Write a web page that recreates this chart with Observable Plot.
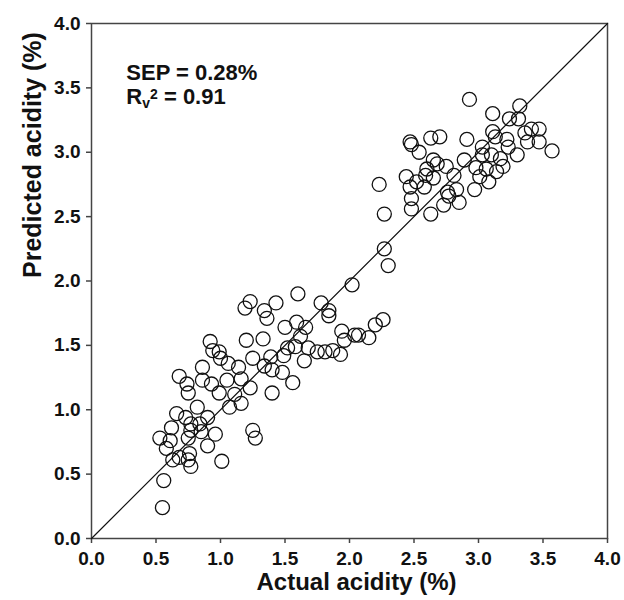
<!DOCTYPE html>
<html>
<head>
<meta charset="utf-8">
<script src="https://cdn.jsdelivr.net/npm/d3@7"></script>
<script src="https://cdn.jsdelivr.net/npm/@observablehq/plot@0.6"></script>
<style>
  html, body { margin: 0; padding: 0; background: #fff; }
  #chart svg { display: block; }
</style>
</head>
<body>
<div id="chart"></div>
<script>
// Actual acidity (%) values
const actualAcidity = [
  2.93,3.11,3.32,3.24,3.31,2.47,2.48,2.63,2.70,2.54,2.91,3.11,3.13,3.36,3.47,3.41,3.47,3.38,3.57,3.03,
  3.23,3.22,3.30,3.17,3.10,3.03,2.89,2.65,2.68,2.75,2.60,2.81,2.98,3.06,3.19,3.14,2.44,2.52,2.58,2.65,
  3.01,3.08,2.97,2.76,2.83,2.77,2.47,2.48,2.48,2.63,2.73,2.85,2.59,2.23,2.27,2.27,2.30,
  2.02,1.60,1.78,1.84,1.84,1.23,1.19,1.43,1.34,1.36,1.50,1.59,1.66,1.62,1.20,1.33,1.52,1.58,1.68,1.75,
  1.81,1.87,1.93,1.94,1.96,2.04,2.07,2.15,2.20,2.26,1.65,1.49,1.39,1.25,
  0.92,0.94,0.99,1.06,1.14,1.34,1.40,1.48,1.56,1.40,0.68,0.74,0.86,0.86,0.93,1.05,1.16,1.23,0.75,0.99,
  1.11,1.00,
  0.82,1.07,1.16,0.66,0.73,0.84,0.90,0.62,0.77,0.53,0.61,0.58,0.75,0.85,0.96,0.90,1.25,1.27,0.68,0.75,
  0.76,0.63,1.01,0.56,0.55,0.77,0.77
];
// Predicted acidity (%) values
const predictedAcidity = [
  3.41,3.30,3.36,3.26,3.26,3.08,3.06,3.11,3.12,3.00,3.10,3.16,3.12,3.15,3.18,3.18,3.08,3.08,3.01,3.04,
  3.04,3.10,2.98,2.95,2.98,2.98,2.94,2.94,2.91,2.89,2.87,2.82,2.88,2.87,2.89,2.85,2.81,2.77,2.73,2.80,
  2.81,2.77,2.71,2.69,2.71,2.66,2.73,2.64,2.56,2.52,2.59,2.61,2.82,2.75,2.52,2.25,2.12,
  1.97,1.90,1.83,1.77,1.73,1.84,1.79,1.83,1.77,1.71,1.64,1.68,1.64,1.57,1.54,1.55,1.48,1.49,1.48,1.45,
  1.45,1.46,1.43,1.61,1.54,1.58,1.58,1.56,1.66,1.70,1.38,1.42,1.41,1.40,
  1.53,1.46,1.45,1.36,1.33,1.34,1.31,1.29,1.21,1.13,1.26,1.20,1.33,1.23,1.20,1.23,1.24,1.17,1.13,1.13,
  1.12,1.40,
  1.02,1.02,1.05,0.97,0.94,0.89,0.94,0.86,0.89,0.78,0.76,0.70,0.78,0.83,0.81,0.72,0.84,0.78,0.63,0.61,
  0.66,0.61,0.60,0.45,0.24,0.56,0.84
];
const tickValues = [0, 0.5, 1, 1.5, 2, 2.5, 3, 3.5, 4];
const identityLine = [0, 4];
const annotationLines = ["SEP = 0.28%", "Rv2 = 0.91"];
const xTitle = "Actual acidity (%)";
const yTitle = "Predicted acidity (%)";

const points = actualAcidity.map((a, i) => ({actual: a, predicted: predictedAcidity[i]}));

const font = "'Liberation Sans', Arial, sans-serif";
const frameColor = "#444";

const plot = Plot.plot({
  width: 624,
  height: 600,
  marginLeft: 91,
  marginRight: 17,
  marginTop: 23,
  marginBottom: 62,
  style: {fontFamily: font, background: "#fff"},
  x: {domain: [0, 4]},
  y: {domain: [0, 4]},
  marks: [
    Plot.frame({stroke: frameColor, strokeWidth: 1.5}),
    Plot.axisX({ticks: tickValues, tickFormat: d3.format(".1f"), tickSize: 5, tickPadding: 8,
      fontSize: 19, fontWeight: "bold", fill: "#111", stroke: frameColor, strokeWidth: 1.5, label: null}),
    Plot.axisY({ticks: tickValues, tickFormat: d3.format(".1f"), tickSize: 5, tickPadding: 6,
      fontSize: 19, fontWeight: "bold", fill: "#111", stroke: frameColor, strokeWidth: 1.5, label: null}),
    Plot.line(identityLine.map(v => ({x: v, y: v})), {x: "x", y: "y", stroke: "#111", strokeWidth: 1.2}),
    Plot.dot(points, {x: "actual", y: "predicted", r: 7, fill: "none", stroke: "#111", strokeWidth: 1.3}),
    Plot.text([annotationLines.join("\n")], {x: 0.27, y: 3.69, text: d => d, textAnchor: "start", lineAnchor: "top",
      lineHeight: 24 / 22, fontSize: 22, fontWeight: "bold", fill: "#111"}),
    Plot.text([xTitle], {frameAnchor: "bottom", dy: 51, dx: 7, text: d => d, fontSize: 24, fontWeight: "bold", fill: "#111"}),
    Plot.text([yTitle], {frameAnchor: "left", dx: -59, dy: -3, rotate: -90, text: d => d, fontSize: 25, fontWeight: "bold", fill: "#111"})
  ]
});

// rich text for the R_v^2 annotation line (sub- and superscript)
d3.select(plot).selectAll("tspan").filter(function () { return this.textContent === annotationLines[1]; })
  .each(function () {
    const t = d3.select(this);
    t.text("");
    t.append("tspan").text("R");
    t.append("tspan").attr("dy", 4).attr("font-size", 14).text("v");
    t.append("tspan").attr("dy", -9.5).attr("font-size", 14).text("2");
    t.append("tspan").attr("dy", 5.5).text(" = 0.91");
  });

document.getElementById("chart").appendChild(plot);
</script>
</body>
</html>
